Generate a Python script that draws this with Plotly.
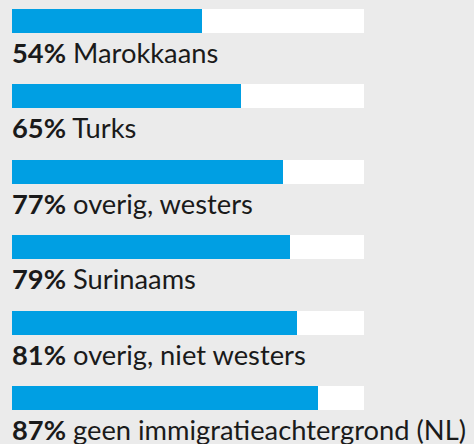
import plotly.graph_objects as go

categories = ["Marokkaans", "Turks", "overig, westers", "Surinaams",
              "overig, niet westers", "geen immigratieachtergrond (NL)"]
values = [54, 65, 77, 79, 81, 87]
full = [100] * len(categories)

BLUE = "#009fe3"
BG = "#ebebeb"

fig = go.Figure()
fig.add_trace(go.Bar(y=categories, x=full, orientation="h", marker=dict(color="white", line=dict(width=0)),
                     width=0.318, hoverinfo="skip", showlegend=False))
fig.add_trace(go.Bar(y=categories, x=values, orientation="h", marker=dict(color=BLUE, line=dict(width=0)),
                     width=0.318, showlegend=False))

annotations = []
for cat, v in zip(categories, values):
    annotations.append(dict(
        x=0, y=cat, xref="x", yref="y", xanchor="left", yanchor="middle",
        text=f"<b>{v}%</b> {cat}", showarrow=False, yshift=-31.5, xshift=-2,
        font=dict(family="Lato, sans-serif", size=27.3, color="#1a1a1a"),
    ))

fig.update_layout(
    width=474, height=444,
    margin=dict(l=0, r=0, t=0, b=0),
    paper_bgcolor=BG, plot_bgcolor=BG,
    barmode="overlay",
    bargap=0,
    xaxis=dict(range=[-3.409, 131.25], visible=False, fixedrange=True),
    yaxis=dict(range=[5.61, -0.2785], visible=False, fixedrange=True,
               categoryorder="array", categoryarray=categories),
    annotations=annotations,
)

fig.write_html("out.html", config={"displayModeBar": False},
               post_script="document.body.style.margin='0';document.body.style.overflow='hidden';")
